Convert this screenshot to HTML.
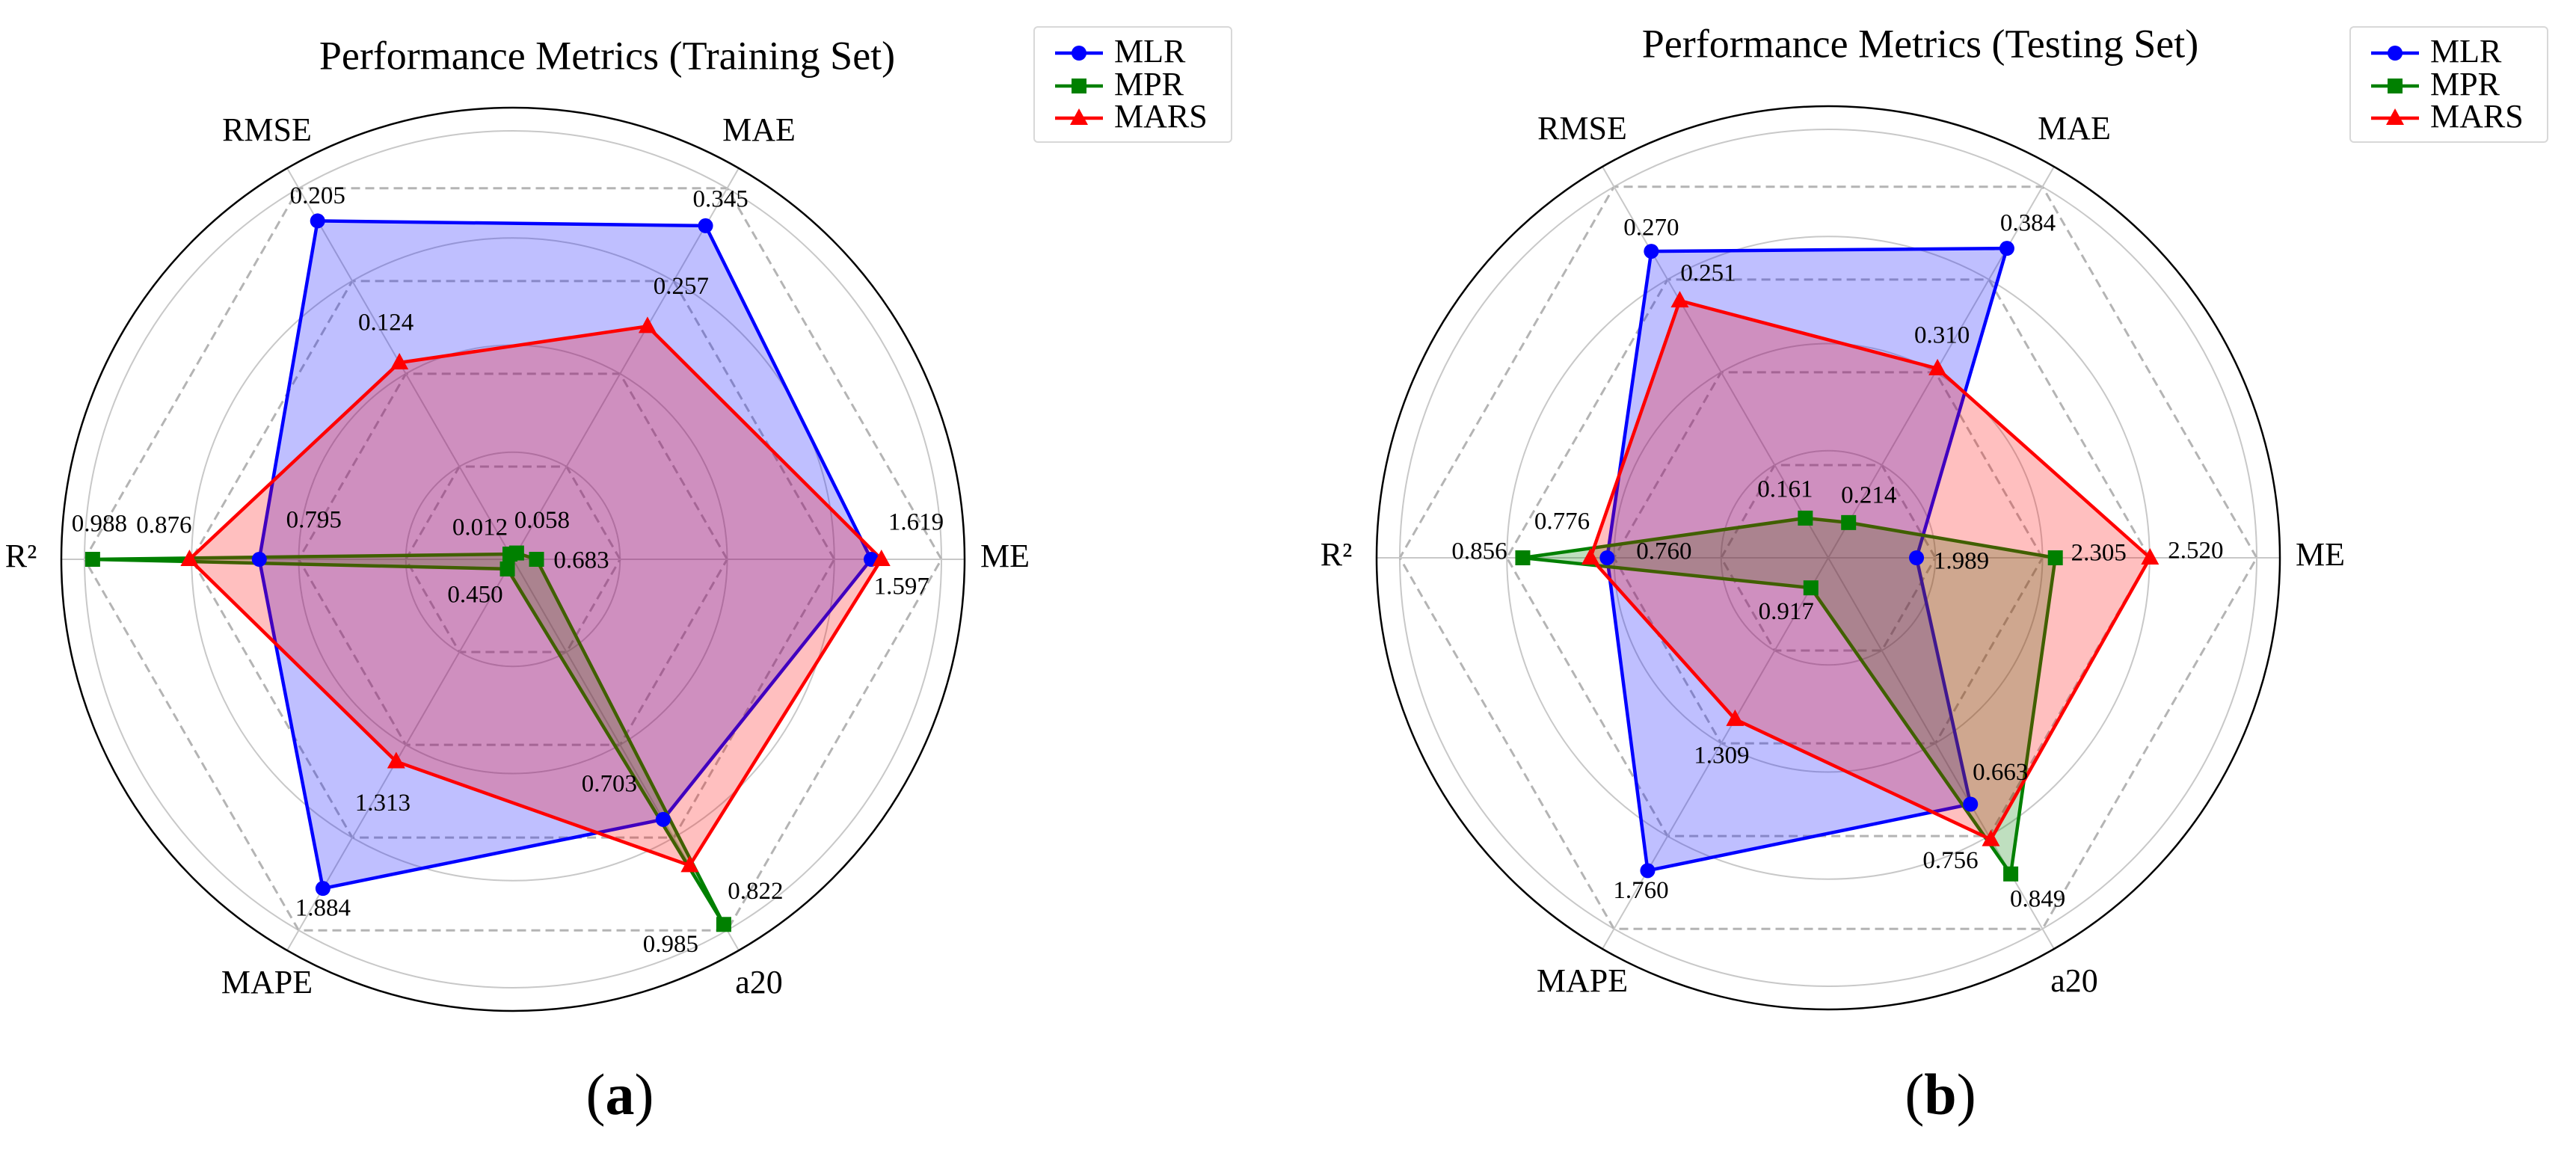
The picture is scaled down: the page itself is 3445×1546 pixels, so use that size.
<!DOCTYPE html>
<html><head><meta charset="utf-8"><style>
html,body{margin:0;padding:0;background:#fff;}
svg{display:block;}
svg text{font-family:"Liberation Serif","DejaVu Serif",serif;}
</style></head><body>
<svg id="fig" width="3445" height="1546" viewBox="0 0 3445 1546" xmlns="http://www.w3.org/2000/svg" font-family="Liberation Serif, serif">
<rect width="3445" height="1546" fill="#fff"/>
</svg>
<script>
const axesNames = ["ME","MAE","RMSE","R²","MAPE","a20"];
const seriesNames = ["MLR","MPR","MARS"];
// panel (a) training: normalized radial values and printed labels
const trainMLR_r = [0.836,0.899,0.912,0.592,0.887,0.701];
const trainMPR_r = [0.055,0.017,0.014,0.981,0.026,0.984];
const trainMARS_r = [0.860,0.628,0.530,0.755,0.545,0.825];
const trainMLR_lbl = ["1.619","0.345","0.205","0.795","1.884","0.703"];
const trainMPR_lbl = ["0.683","0.058","0.012","0.988","0.450","0.985"];
const trainMARS_lbl = ["1.597","0.257","0.124","0.876","1.313","0.822"];
// panel (b) testing
const testMLR_r = [0.206,0.834,0.826,0.516,0.843,0.664];
const testMPR_r = [0.530,0.095,0.107,0.713,0.081,0.852];
const testMARS_r = [0.751,0.510,0.693,0.555,0.435,0.759];
const testMLR_lbl = ["1.989","0.384","0.270","0.760","1.760","0.663"];
const testMPR_lbl = ["2.305","0.214","0.161","0.856","0.917","0.849"];
const testMARS_lbl = ["2.520","0.310","0.251","0.776","1.309","0.756"];
const gridLevels = [0.25,0.5,0.75,1.0];

// label offsets (px, style only)
const offA = {MLR:[[60,-47],[20,-33],[0,-31],[73,-50],[0,29],[-72,-45]],
  MPR:[[60,4],[34,-41],[-40,-33],[9,-45],[-43,37],[-71,29]],
  MARS:[[27,39],[45,-51],[-18,-51],[-34,-43],[-18,58],[88,37]]};
const offB = {MLR:[[60,7],[28,-31],[0,-29],[76,-6],[-9,29],[40,-40]],
  MPR:[[58,-4],[27,-34],[-27,-36],[-58,-6],[-33,34],[36,36]],
  MARS:[[61,-7],[6,-42],[38,-34],[-38,-46],[-18,51],[-54,31]]};

const NS = "http://www.w3.org/2000/svg";
const FONT = "Liberation Serif, DejaVu Serif, serif";
const svg = document.getElementById('fig');
function mk(tag, attrs, parent){const e=document.createElementNS(NS,tag);for(const k in attrs)e.setAttribute(k,attrs[k]);if(tag==='text')e.setAttribute('font-family',FONT);(parent||svg).appendChild(e);return e;}
const colors = {MLR:"#0000ff",MPR:"#008000",MARS:"#ff0000"};
const fills = {MLR:"rgba(0,0,255,0.25)",MPR:"rgba(0,128,0,0.25)",MARS:"rgba(255,0,0,0.25)"};
const UNIT = 573;
function pt(cx,cy,i,r){const a=i*Math.PI/3;return [cx+Math.cos(a)*r*UNIT, cy-Math.sin(a)*r*UNIT];}

function marker(g,name,x,y){
  let m;
  if(name==="MLR"){m=mk('circle',{cx:x,cy:y,r:10,fill:colors.MLR},g);}
  else if(name==="MPR"){m=mk('rect',{x:x-10,y:y-10,width:20,height:20,fill:colors.MPR},g);}
  else {m=mk('polygon',{points:`${x},${y-13} ${x+12},${y+9} ${x-12},${y+9}`,fill:colors.MARS},g);}
  
  
}

function panel(id,cx,cy,title,tx,ty,rs,lbls,offs,legX,cap,capX){
  const g=mk('g',{});
  
  
  const t=mk('text',{x:tx,y:ty,'font-size':54,'text-anchor':'middle','dominant-baseline':'middle',fill:'#000'},g);
  t.textContent=title;
  
  
  gridLevels.forEach(l=>{
    const c=mk('circle',{cx:cx,cy:cy,r:l*UNIT,fill:'none',stroke:'#c8c8c8','stroke-width':2},g);
    
    
  });
  gridLevels.forEach(l=>{
    const p=[];for(let i=0;i<6;i++)p.push(pt(cx,cy,i,l).join(','));
    const h=mk('polygon',{points:p.join(' '),fill:'none',stroke:'#b4b4b4','stroke-width':3,'stroke-dasharray':'12,7'},g);
    
    
  });
  for(let i=0;i<6;i++){
    const e=pt(cx,cy,i,604/UNIT);
    const s=mk('line',{x1:cx,y1:cy,x2:e[0],y2:e[1],stroke:'#c8c8c8','stroke-width':2},g);
    
    
  }
  const oc=mk('circle',{cx:cx,cy:cy,r:604,fill:'none',stroke:'#000','stroke-width':2.5},g);
  
  
  axesNames.forEach((n,i)=>{
    const p=pt(cx,cy,i,658/UNIT);
    const tt=mk('text',{x:p[0],y:p[1],'font-size':44,'text-anchor':'middle','dominant-baseline':'middle',fill:'#000'},g);
    tt.textContent=n;
    
    
  });
  seriesNames.forEach(s=>{
    const p=rs[s].map((r,i)=>pt(cx,cy,i,r).join(','));
    const poly=mk('polygon',{points:p.join(' '),fill:fills[s],stroke:colors[s],'stroke-width':4.5,'stroke-linejoin':'miter'},g);
    
    
  });
  seriesNames.forEach(s=>{
    rs[s].forEach((r,i)=>{const p=pt(cx,cy,i,r);marker(g,s,p[0],p[1]);});
  });
  seriesNames.forEach(s=>{
    rs[s].forEach((r,i)=>{
      const p=pt(cx,cy,i,r);const o=offs[s][i];
      const tl=mk('text',{x:p[0]+o[0],y:p[1]+o[1],'font-size':33,'text-anchor':'middle','dominant-baseline':'middle',fill:'#000'},g);
      tl.textContent=lbls[s][i];
      
      
    });
  });
  const lg=mk('g',{},g);
  
  
  mk('rect',{x:legX,y:36,width:264,height:154,rx:5,fill:'#fff',stroke:'#d8d8d8','stroke-width':2},lg);
  const rowsY=[71,115,158];
  seriesNames.forEach((s,k)=>{
    const e=mk('g',{},lg);
    
    
    const y=rowsY[k];
    mk('line',{x1:legX+28,y1:y,x2:legX+92,y2:y,stroke:colors[s],'stroke-width':4.5},e);
    marker(e,s,legX+60,y);
    const lt=mk('text',{x:legX+107,y:y+2,'font-size':44,'dominant-baseline':'middle',fill:'#000'},e);
    lt.textContent=s;
  });
  const c=mk('text',{x:capX,y:1490,'font-size':78,'text-anchor':'middle',fill:'#000'},svg);
  c.innerHTML='(<tspan font-weight="bold">'+cap+'</tspan>)';
  
  
}

panel('training',686,748,'Performance Metrics (Training Set)',812,80,
  {MLR:trainMLR_r,MPR:trainMPR_r,MARS:trainMARS_r},
  {MLR:trainMLR_lbl,MPR:trainMPR_lbl,MARS:trainMARS_lbl},offA,1383,'a',829);
panel('testing',2445,746,'Performance Metrics (Testing Set)',2568,64,
  {MLR:testMLR_r,MPR:testMPR_r,MARS:testMARS_r},
  {MLR:testMLR_lbl,MPR:testMPR_lbl,MARS:testMARS_lbl},offB,3143,'b',2595);
</script>
</body></html>
